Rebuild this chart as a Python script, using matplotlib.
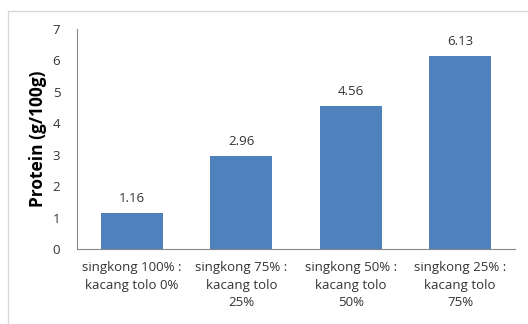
import matplotlib
matplotlib.use("Agg")
import matplotlib.pyplot as plt
from matplotlib.patches import Rectangle

categories = ["singkong 100% :\nkacang tolo 0%", "singkong 75% :\nkacang tolo\n25%",
              "singkong 50% :\nkacang tolo\n50%", "singkong 25% :\nkacang tolo\n75%"]
values = [1.16, 2.96, 4.56, 6.13]
labels = ["1.16", "2.96", "4.56", "6.13"]
yticks = [0, 1, 2, 3, 4, 5, 6, 7]

plt.rcParams['font.family'] = ['Open Sans', 'DejaVu Sans']
fig = plt.figure(figsize=(5.28, 3.24), dpi=100)
fig.patches.append(Rectangle((8/528, -0.1), 1.1, 0.1 + 1 - 11/324, transform=fig.transFigure,
                             fill=False, edgecolor="#d9d9d9", linewidth=1))
ax = fig.add_axes([77/528, 1 - 249/324, (515 - 77)/528, (249 - 29)/324])
x = range(len(values))
ax.bar(x, values, width=0.57, color="#4F81BD")
for xi, v, l in zip(x, values, labels):
    ax.text(xi, v + 0.25, l, ha="center", va="bottom", fontsize=9.5, color="#333333")
ax.set_xlim(-0.5, 3.5)
ax.set_ylim(0, 7)
ax.set_yticks(yticks)
ax.set_xticks(list(x))
ax.set_xticklabels(categories, fontsize=9.5, color="#333333", linespacing=1.45)
ax.tick_params(axis="both", length=0, labelsize=9.5, labelcolor="#333333")
ax.tick_params(axis="y", pad=12)
ax.tick_params(axis="x", pad=9)
for s in ["top", "right"]:
    ax.spines[s].set_visible(False)
for s in ["left", "bottom"]:
    ax.spines[s].set_color("#868686")
ax.set_ylabel("Protein (g/100g)", fontsize=12.5, fontweight="bold", labelpad=4)
fig.savefig("out.png", dpi=100)
